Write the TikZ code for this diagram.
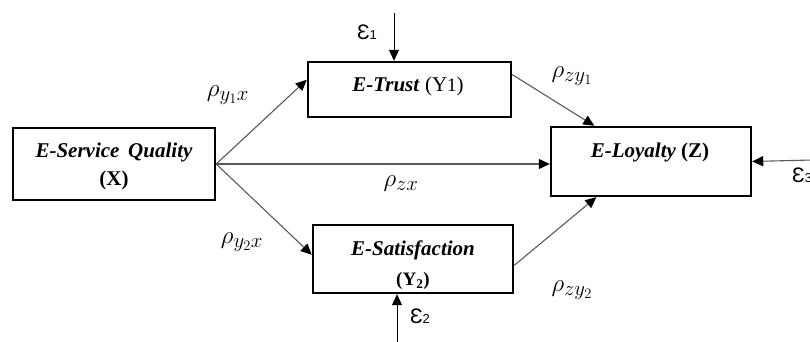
\documentclass[tikz,border=0pt]{standalone}
\usepackage{fontspec}
\setmainfont{Liberation Serif}
\newfontfamily\epsfont{Liberation Sans}
\DeclareMathSizes{25}{25}{20}{15}
\usetikzlibrary{arrows.meta,calc}
\tikzset{
  boxnode/.style={draw=black, line width=2.4pt, rectangle, inner sep=0pt},
  boxtext/.style={inner sep=0pt, font=\fontsize{21}{24}\selectfont},
  arr/.style={draw=black!65, line width=1.1pt, -{Triangle[length=11pt,width=10pt,color=black]}},
  earr/.style={draw=black, line width=0.9pt, -{Triangle[length=11pt,width=10pt,color=black]}},
  coef/.style={inner sep=0pt, font=\fontsize{25}{30}\selectfont},
  epslab/.style={inner sep=0pt, font=\fontsize{21}{24}\epsfont},
}
\newcommand{\epsi}[1]{Ɛ{\fontsize{13}{14}\selectfont #1}}
\begin{document}
\begin{tikzpicture}[x=1pt,y=-1pt]
\useasboundingbox (0,0) rectangle (810,342);
% boxes
\node[boxnode, minimum width=202pt, minimum height=72pt] (esq) at (114,164) {};
\node[boxnode, minimum width=203pt, minimum height=55pt] (trust) at (409.5,89.5) {};
\node[boxnode, minimum width=200pt, minimum height=68pt] (sat) at (413,259) {};
\node[boxnode, minimum width=200pt, minimum height=69pt] (loy) at (651,161.5) {};
% box texts
\node[boxtext] (esqa) at (114,152) {\textbf{\textit{E-Service\, Quality}}};
\node[boxtext] (esqb) at (114,180) {\textbf{(X)}};
\node[boxtext] (trusta) at (408,86) {\textbf{\textit{E-Trust}} (Y{\fontsize{19}{22}\selectfont 1})};
\node[boxtext] (sata) at (413,250) {\textbf{\textit{E-Satisfaction}}};
\node[boxtext] (satb) at (413,281) {\fontsize{19}{22}\selectfont\textbf{(Y\textsubscript{2})}};
\node[boxtext] (loya) at (650,152) {\textbf{\textit{E-Loyalty}} \textbf{(Z)}};
% connectors
\draw[arr] (esq.east) -- ($(trust.north west)!0.33!(trust.south west)$);
\draw[arr] (esq.east) -- (esq.east -| loy.west);
\draw[arr] (esq.east) -- ($(sat.north west)!0.44!(sat.south west)$);
\draw[arr] ($(trust.north east)!0.24!(trust.south east)$) -- ($(loy.north west)!0.22!(loy.north east)$);
\draw[arr] ($(sat.north east)!0.59!(sat.south east)$) -- ($(loy.south west)!0.23!(loy.south east)$);
% error terms
\coordinate (e1s) at (394,13);
\coordinate (e2s) at (397,342);
\coordinate (e3s) at (812,160);
\draw[earr] (e1s) -- (e1s |- trust.north);
\draw[earr] (e2s) -- (e2s |- sat.south);
\draw[arr] (e3s) -- (loy.east);
\node[epslab] (eps1) at (367,32) {\epsi{1}};
\node[epslab] (eps2) at (420,316) {\epsi{2}};
\node[epslab, anchor=west] (eps3) at (792,175) {\epsi{3}};
% coefficients
\node[coef] (c1) at (228,95) {$\rho_{y_1x}$};
\node[coef] (c2) at (242,242) {$\rho_{y_2x}$};
\node[coef] (c3) at (572,76) {$\rho_{zy_1}$};
\node[coef] (c4) at (572,290) {$\rho_{zy_2}$};
\node[coef] (c5) at (401,184) {$\rho_{zx}$};
\end{tikzpicture}
\end{document}
